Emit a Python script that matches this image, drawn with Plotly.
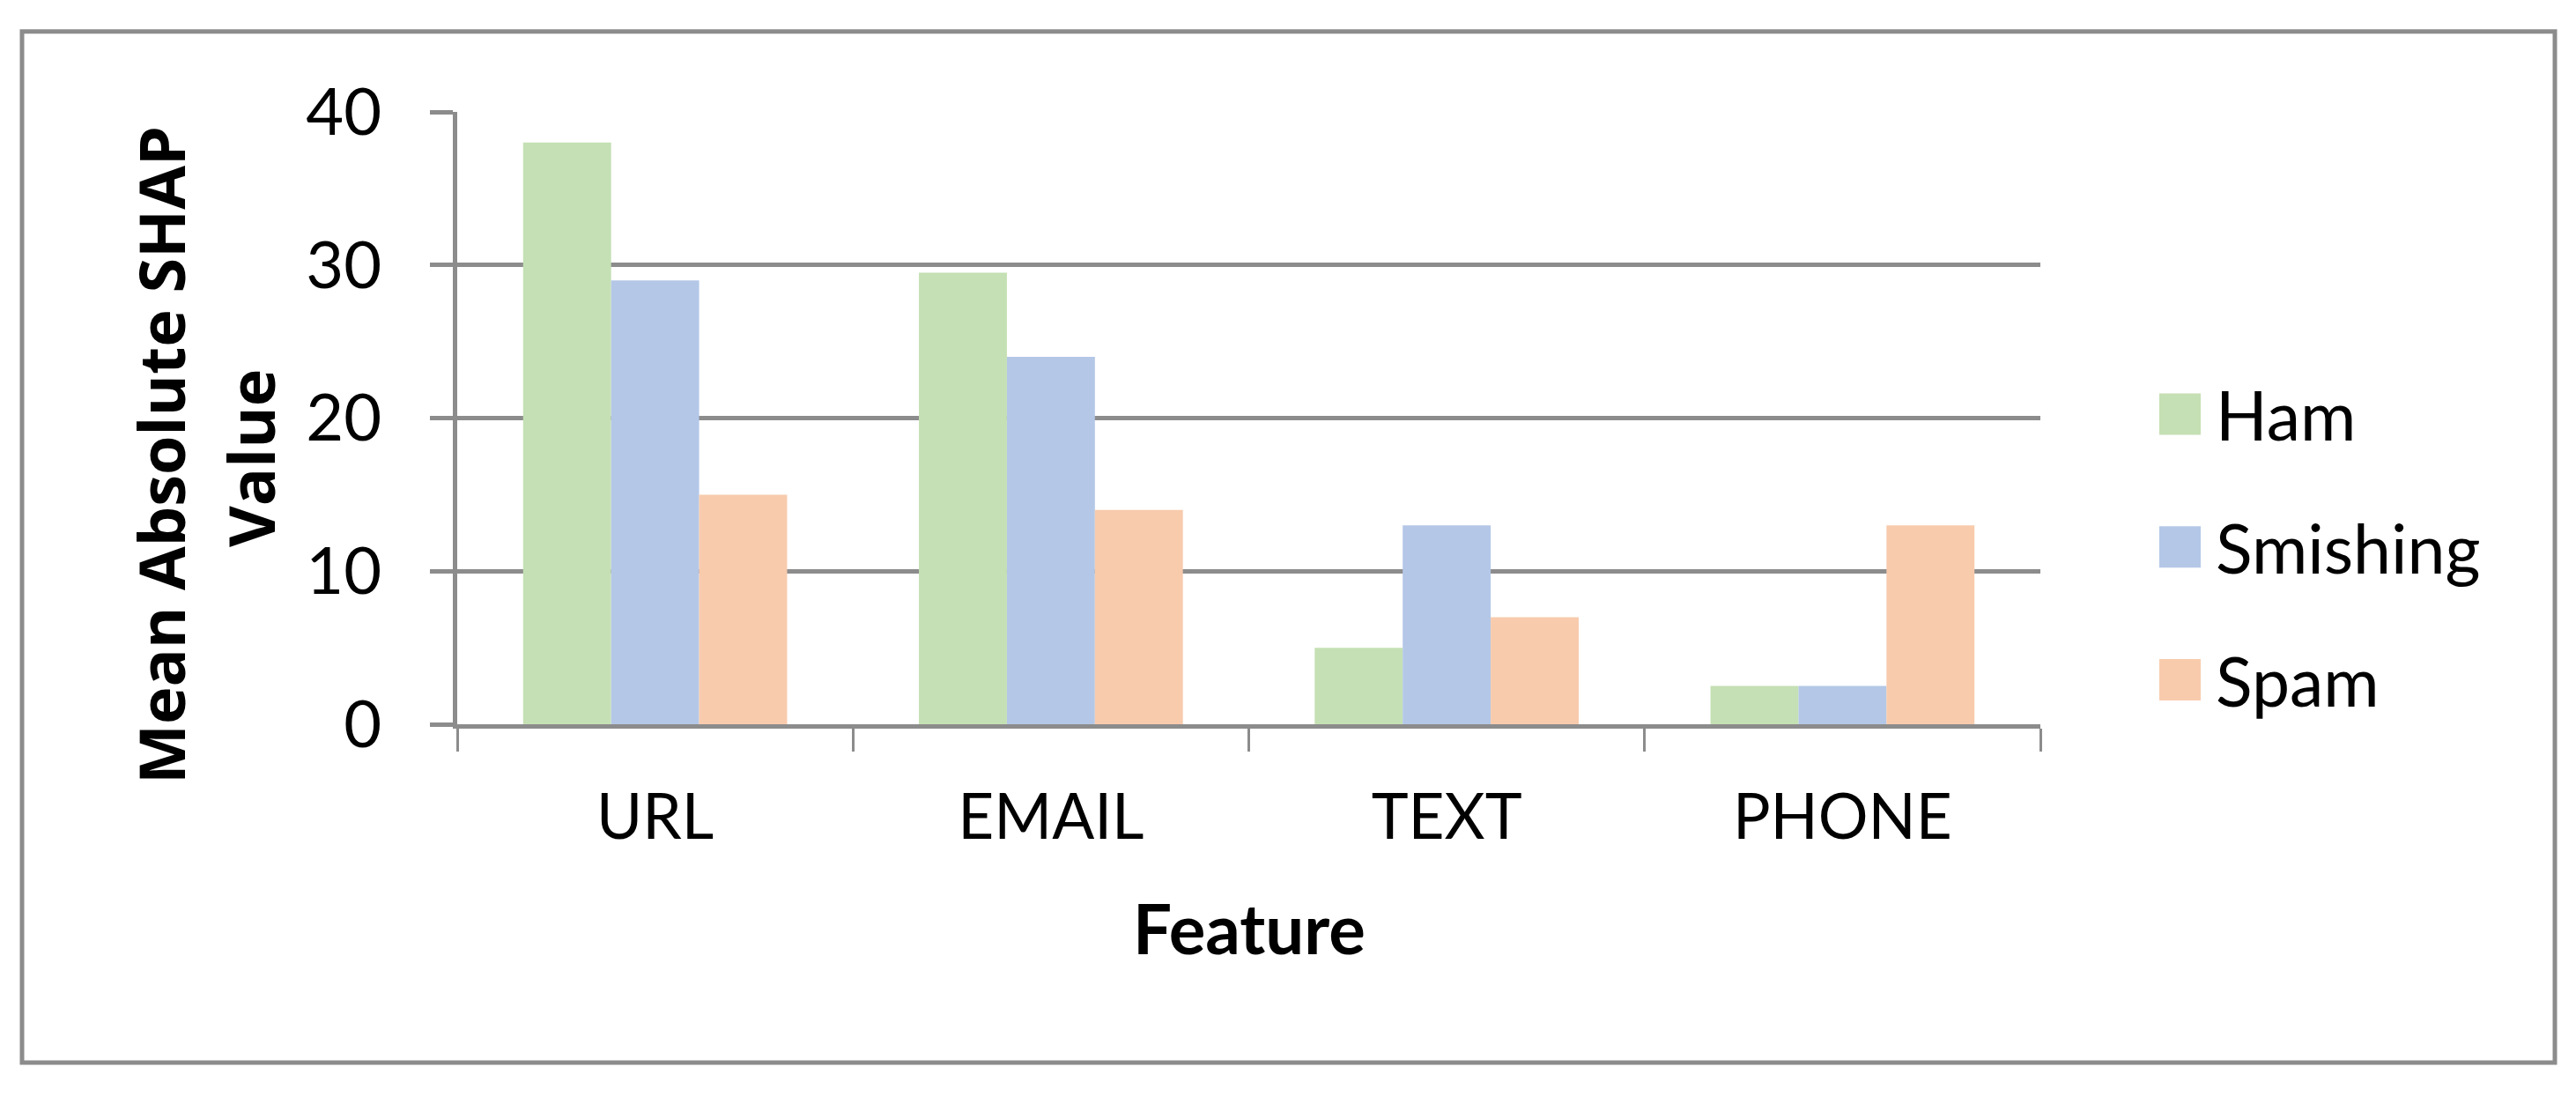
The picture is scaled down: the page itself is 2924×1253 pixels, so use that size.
import plotly.graph_objects as go

# ---- data ----
features = ["URL", "EMAIL", "TEXT", "PHONE"]
series_names = ["Ham", "Smishing", "Spam"]
ham = [38, 29.5, 5, 2.5]
smishing = [29, 24, 13, 2.5]
spam = [15, 14, 7, 13]
y_ticks = [0, 10, 20, 30, 40]
colors = ["#C5E0B4", "#B4C7E7", "#F8CBAD"]

# page body has an 8px default margin; lay out in reference-pixel coordinates minus it
OFF = 8
W, H = 2924 - OFF - 16, 1253 - OFF - 8
PL, PR, PT, PB = 519 - OFF, 2316 - OFF, 126.5 - OFF, 822.5 - OFF  # plot area
pw, ph = PR - PL, PB - PT

def px(x):
    return (x - OFF - PL) / pw

def py(y):
    return (PB - (y - OFF)) / ph

FONT = "Lato, Carlito, Calibri, sans-serif"
TFONT = "'Open Sans', Lato, sans-serif"
GRAY = "#8C8C8C"

fig = go.Figure()
for name, vals, col in zip(series_names, [ham, smishing, spam], colors):
    fig.add_trace(go.Bar(x=features, y=vals, name=name,
                         marker=dict(color=col, line=dict(width=0)), showlegend=False))

fig.update_layout(
    width=W, height=H,
    margin=dict(l=PL, r=W - PR, t=PT, b=H - PB, autoexpand=False),
    paper_bgcolor="white", plot_bgcolor="white",
    barmode="group", bargap=0.333, bargroupgap=0,
    font=dict(family=FONT, color="black"),
)

fig.update_yaxes(
    range=[0, 40], tickvals=y_ticks, showgrid=True, gridcolor=GRAY, gridwidth=5,
    zeroline=False, showline=True, linecolor=GRAY, linewidth=5,
    ticks="outside", ticklen=26, tickwidth=5, tickcolor=GRAY,
    tickfont=dict(family=FONT, size=74, color="black"), ticklabelstandoff=40,
    fixedrange=True,
)
fig.update_xaxes(
    showgrid=False, zeroline=False, showline=True, linecolor=GRAY, linewidth=5,
    ticks="outside", ticklen=26, tickwidth=3, tickcolor=GRAY, tickson="boundaries",
    tickfont=dict(family=FONT, size=71, color="black"), ticklabelstandoff=40,
)

# outer border
fig.add_shape(type="rect", xref="paper", yref="paper",
              x0=px(25), x1=px(2900), y0=py(1207), y1=py(35),
              line=dict(color=GRAY, width=5), fillcolor="rgba(0,0,0,0)", layer="below")

# axis titles
fig.add_annotation(xref="paper", yref="paper", x=px(182), y=py(517),
                   text="<b>Mean Absolute SHAP</b>", textangle=-90, showarrow=False,
                   xanchor="center", yanchor="middle",
                   font=dict(family=TFONT, size=72, color="black"))
fig.add_annotation(xref="paper", yref="paper", x=px(284), y=py(520),
                   text="<b>Value</b>", textangle=-90, showarrow=False,
                   xanchor="center", yanchor="middle",
                   font=dict(family=TFONT, size=72, color="black"))
fig.add_annotation(xref="paper", yref="paper", x=0.5, y=py(1054),
                   text="<b>Feature</b>", showarrow=False, xanchor="center", yanchor="middle",
                   font=dict(family=FONT, size=78, color="black"))

# legend (large swatches)
leg_y = [470, 621, 772]
for name, col, yy in zip(series_names, colors, leg_y):
    fig.add_shape(type="rect", xref="paper", yref="paper",
                  x0=px(2451), x1=px(2498), y0=py(yy + 23.5), y1=py(yy - 23.5),
                  line=dict(width=0), fillcolor=col)
    fig.add_annotation(xref="paper", yref="paper", x=px(2513), y=py(yy), text=name,
                       showarrow=False, xanchor="left", yanchor="middle",
                       font=dict(family=FONT, size=77, color="black"))

fig.write_html("out.html")
